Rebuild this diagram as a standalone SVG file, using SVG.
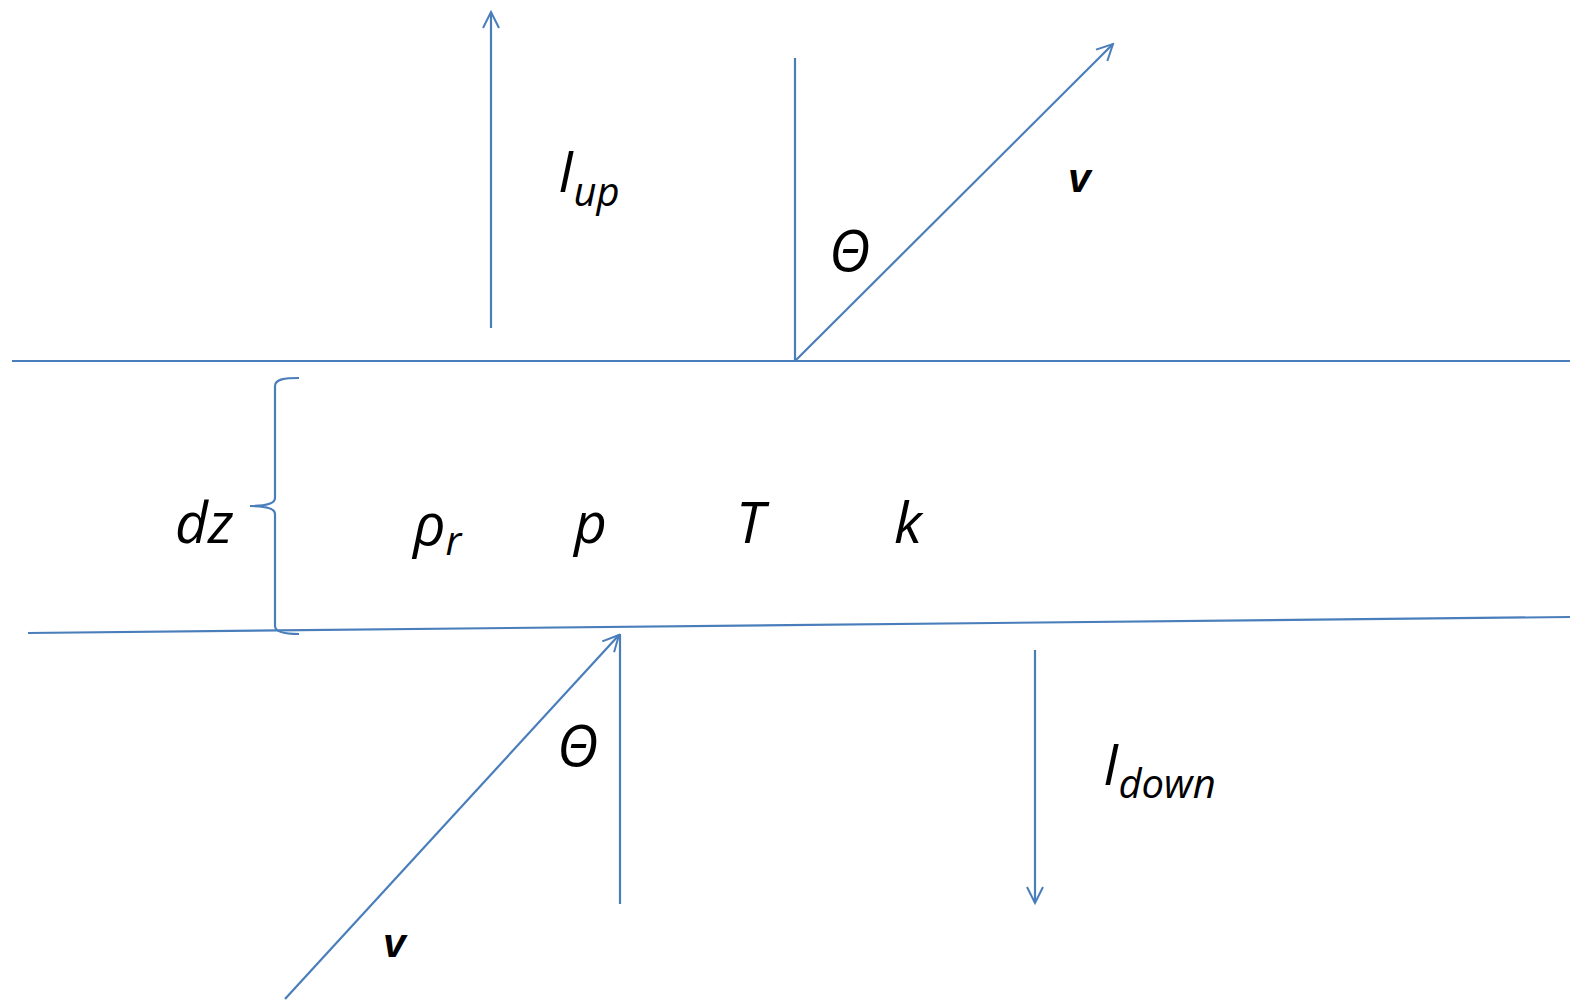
<svg xmlns="http://www.w3.org/2000/svg" width="1570" height="1001" viewBox="0 0 1570 1001">
<defs>
<style>
.ln{stroke:#4a7ebb;stroke-width:2.2;fill:none}
.t{font-family:"Open Sans","Noto Sans","Liberation Sans",sans-serif;font-style:italic;font-size:57px;fill:#000}
.s{font-size:40px}
.b{font-family:"Liberation Sans",sans-serif;font-style:italic;font-weight:bold;font-size:41px;fill:#000}
</style>
<marker id="ah" viewBox="0 0 20 20" refX="18" refY="10" markerWidth="20" markerHeight="20" markerUnits="userSpaceOnUse" orient="auto">
<path d="M2,2 L18,10 L2,18" fill="none" stroke="#4a7ebb" stroke-width="2"/>
</marker>
</defs>
<rect width="1570" height="1001" fill="#fff"/>
<g id="connectors">
<line class="ln" x1="12" y1="361" x2="1570" y2="361"/>
<line class="ln" x1="28" y1="633" x2="1570" y2="617"/>
<line class="ln" x1="491" y1="328" x2="491" y2="12" marker-end="url(#ah)"/>
<line class="ln" x1="795" y1="58" x2="795" y2="361"/>
<line class="ln" x1="795" y1="361" x2="1113" y2="44" marker-end="url(#ah)"/>
<path class="ln" d="M299,378 C285,378 275,379 275,386 L275,498 C275,503 268,506 250,506 C268,506 275,509 275,514 L275,626 C275,632 285,634 299,634"/>
<line class="ln" x1="620" y1="904" x2="620" y2="634"/>
<line class="ln" x1="285" y1="999" x2="619" y2="635" marker-end="url(#ah)"/>
<line class="ln" x1="1035" y1="650" x2="1035" y2="903" marker-end="url(#ah)"/>
</g>
<g id="label-iup"><text class="t" x="558" y="192">I<tspan class="s" dy="14">up</tspan></text></g>
<g id="label-theta-top"><text class="t" x="829" y="271">Θ</text></g>
<g id="label-v-top"><text class="b" x="1068" y="192">v</text></g>
<g id="label-dz"><text class="t" x="175" y="543">dz</text></g>
<g id="label-rho"><text class="t" x="413" y="545">ρ<tspan class="s" dy="10">r</tspan></text></g>
<g id="label-p"><text class="t" x="574" y="543">p</text></g>
<g id="label-T"><text class="t" x="736" y="543">T</text></g>
<g id="label-k"><text class="t" x="894" y="543">k</text></g>
<g id="label-theta-bottom"><text class="t" x="557" y="766">Θ</text></g>
<g id="label-v-bottom"><text class="b" x="383" y="957">v</text></g>
<g id="label-idown"><text class="t" x="1103" y="785">I<tspan class="s" dy="13">down</tspan></text></g>
</svg>
